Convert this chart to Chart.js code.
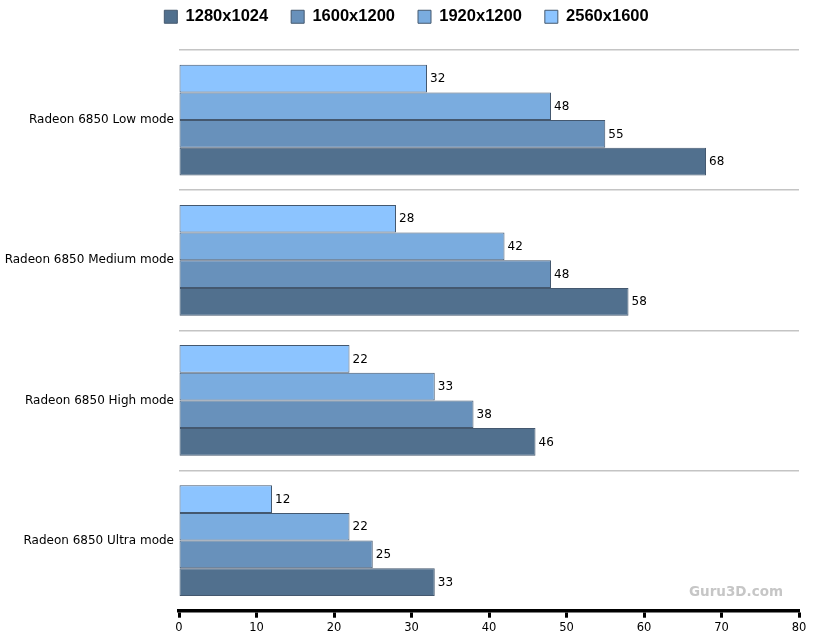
<!DOCTYPE html>
<html><head><meta charset="utf-8">
<script src="https://cdn.jsdelivr.net/npm/chart.js@4.4.0/dist/chart.umd.min.js"></script>
<style>html,body{margin:0;padding:0;background:#fff;}canvas{display:block;}</style>
</head><body>
<canvas id="c" width="817" height="642"></canvas>
<script>
const categories = ['Radeon 6850 Low mode', 'Radeon 6850 Medium mode', 'Radeon 6850 High mode', 'Radeon 6850 Ultra mode'];
const seriesNames = ['2560x1600', '1920x1200', '1600x1200', '1280x1024'];
const res2560 = [32, 28, 22, 12];
const res1920 = [48, 42, 33, 22];
const res1600 = [55, 48, 38, 25];
const res1280 = [68, 58, 46, 33];
const xMin = 0, xMax = 80, xStep = 10;
const seriesColors = ['#8CC4FF', '#7AACDF', '#6891BB', '#51708E'];
const borderCol = '#44586F';

const seriesValues = [res2560, res1920, res1600, res1280];

const LEGEND_TOP = -14.5;
const LEGEND_BOTTOM = 50;
const LEGEND_SHIFT = 7;

const legendFix = {
  id: 'legendFix',
  afterInit(chart) {
    const lg = chart.legend;
    const f = lg.fit;
    lg.fit = function () { f.call(this); this.height = LEGEND_BOTTOM - LEGEND_TOP; };
  },
  afterLayout(chart) {
    chart.legend.left += LEGEND_SHIFT;
    chart.legend.right += LEGEND_SHIFT;
  }
};

const valueLabels = {
  id: 'valueLabels',
  afterDatasetsDraw(chart) {
    const ctx = chart.ctx;
    ctx.save();
    ctx.font = '12px "DejaVu Sans"';
    ctx.fillStyle = '#000';
    ctx.textAlign = 'left';
    ctx.textBaseline = 'middle';
    chart.data.datasets.forEach((ds, di) => {
      const meta = chart.getDatasetMeta(di);
      meta.data.forEach((bar, i) => {
        ctx.fillText(String(ds.data[i]), bar.x + 3, bar.y + 0.5);
      });
    });
    ctx.restore();
  }
};

const watermark = {
  id: 'watermark',
  afterDraw(chart) {
    const ctx = chart.ctx;
    ctx.save();
    ctx.font = 'bold 13.5px "DejaVu Sans"';
    ctx.fillStyle = '#c6c6c6';
    ctx.textAlign = 'left';
    ctx.textBaseline = 'middle';
    ctx.fillText('Guru3D.com', 689, 592);
    ctx.restore();
  }
};

new Chart(document.getElementById('c'), {
  type: 'bar',
  data: {
    labels: categories,
    datasets: seriesNames.map((name, i) => ({
      label: name,
      data: seriesValues[i],
      backgroundColor: seriesColors[i],
      borderColor: borderCol,
      borderWidth: 1,
      borderSkipped: false,
      categoryPercentage: 0.79,
      barPercentage: 1.0
    }))
  },
  options: {
    indexAxis: 'y',
    responsive: false,
    animation: false,
    devicePixelRatio: 1,
    layout: { padding: { top: LEGEND_TOP, left: 0, right: 18, bottom: 4.5 } },
    plugins: {
      tooltip: { enabled: false },
      legend: {
        position: 'top',
        reverse: true,
        labels: {
          boxWidth: 13,
          boxHeight: 13,
          padding: 23,
          color: '#000',
          font: { family: '"Liberation Sans", Arial, sans-serif', size: 16.5, weight: 'bold' }
        }
      }
    },
    scales: {
      x: {
        type: 'linear',
        min: xMin,
        max: xMax,
        ticks: { stepSize: xStep, color: '#000', padding: 3, font: { family: '"DejaVu Sans"', size: 11.5 } },
        grid: { drawOnChartArea: false, drawTicks: true, tickLength: 7, tickWidth: 3, tickColor: '#000' },
        border: { display: true, width: 3.5, color: '#000' }
      },
      y: {
        afterFit(scale) { scale.width = 179; },
        ticks: { color: '#000', padding: 5, font: { family: '"DejaVu Sans"', size: 12 } },
        grid: { offset: true, drawTicks: false, color: '#c4c4c4', lineWidth: 1.5 },
        border: { display: false }
      }
    }
  },
  plugins: [legendFix, valueLabels, watermark]
});
</script>
</body></html>
